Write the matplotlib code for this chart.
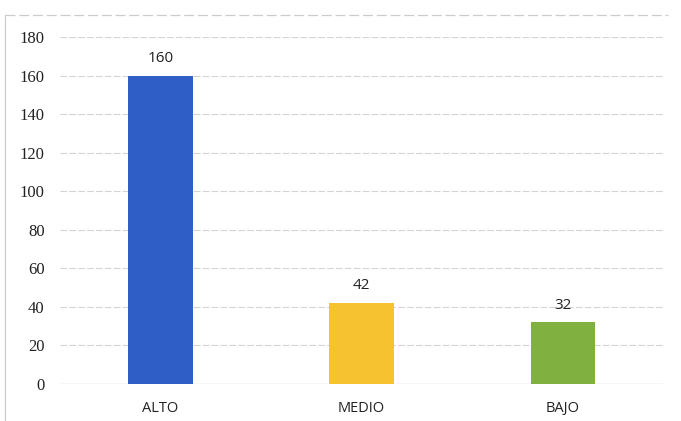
import matplotlib
matplotlib.use("Agg")
import matplotlib.pyplot as plt
from matplotlib.lines import Line2D

categories = ["ALTO", "MEDIO", "BAJO"]
values = [160, 42, 32]
colors = ["#2F5FC6", "#F6C230", "#80B140"]
yticks = [0, 20, 40, 60, 80, 100, 120, 140, 160, 180]

fig = plt.figure(figsize=(6.81, 4.21), dpi=100)
ax = fig.add_axes([0.088, 0.088, 0.886, 0.824])

x = range(len(categories))
bars = ax.bar(x, values, width=0.32, color=colors, zorder=3)
for b, v in zip(bars, values):
    ax.text(b.get_x() + b.get_width() / 2, v + 5, str(v), ha="center", va="bottom",
            fontsize=11, family="Open Sans", color="#222222")

ax.set_xlim(-0.5, 2.5)
ax.set_ylim(0, 180)
ax.set_yticks(yticks)
ax.set_xticks(list(x))
ax.set_xticklabels(categories, family="Open Sans", fontsize=10.5, color="#222222")
for t in ax.get_yticklabels():
    t.set_family("Liberation Serif")
    t.set_fontsize(12)
    t.set_color("#222222")
ax.tick_params(length=0)
ax.tick_params(axis="x", pad=12)
ax.tick_params(axis="y", pad=11)
ax.grid(axis="y", color="#d4d4d4", linewidth=0.8, linestyle=(0, (6, 2)), zorder=0)
for s in ax.spines.values():
    s.set_visible(False)
ax.axhline(0, color="#cfcfcf", linewidth=0.9, zorder=2)

# chart area frame
fig.add_artist(Line2D([5 / 681, 5 / 681], [0, 1 - 15 / 421], transform=fig.transFigure,
                      color="#cccccc", linewidth=0.9))
fig.add_artist(Line2D([5 / 681, 668 / 681], [1 - 15 / 421, 1 - 15 / 421], transform=fig.transFigure,
                      color="#cccccc", linewidth=0.9, linestyle=(0, (8, 3))))

fig.savefig("out.png", dpi=100)
